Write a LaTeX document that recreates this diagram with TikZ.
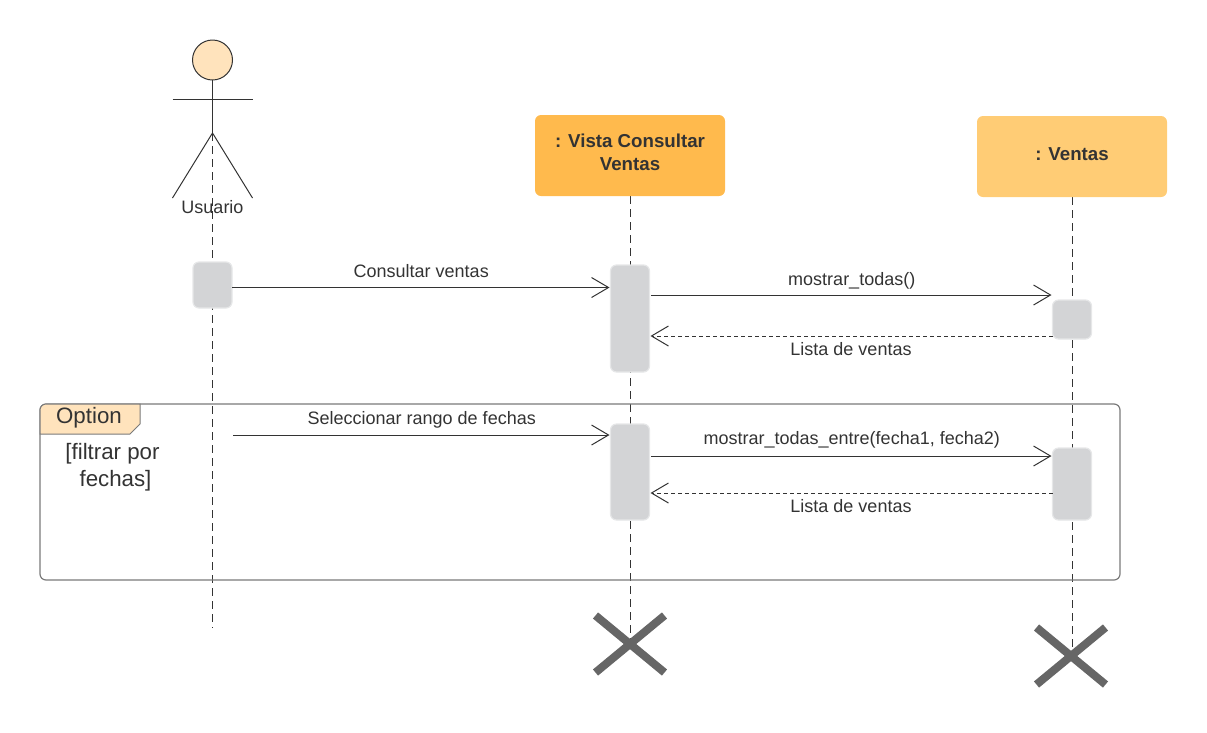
\documentclass[tikz,border=0pt]{standalone}
\usepackage{fontspec}
\setmainfont{Liberation Sans}
\usepackage{xcolor}
\usetikzlibrary{arrows.meta, positioning, shapes.misc, backgrounds}
\definecolor{inkgray}{HTML}{333333}
\definecolor{headorange}{HTML}{FFBA4D}
\definecolor{headyellow}{HTML}{FFCC75}
\definecolor{skinorange}{HTML}{FFE3BC}
\definecolor{barfill}{HTML}{D3D4D6}
\definecolor{barline}{HTML}{E6E7E8}
\definecolor{crossgray}{HTML}{666666}
\definecolor{framegray}{HTML}{7A7A7A}

\begin{document}
\begin{tikzpicture}[
    x=1pt, y=-1pt,
    every node/.style={text=inkgray, font=\fontsize{18}{21}\selectfont},
    head/.style={rectangle, rounded corners=6pt, align=center, minimum width=190pt, minimum height=81pt, inner sep=0pt, outer sep=0pt, font=\fontsize{18.7}{23}\selectfont\bfseries},
    bar/.style={rectangle, rounded corners=6pt, draw=barline, fill=barfill, line width=1.2pt, minimum width=39pt, inner sep=0pt, outer sep=0pt},
    kill/.style={cross out, draw=crossgray, line width=8pt, minimum width=69pt, minimum height=57pt, inner sep=0pt, outer sep=0pt},
    lifeline/.style={dash pattern=on 8pt off 5pt, line width=1pt, draw=inkgray},
    limb/.style={line width=1pt, draw=inkgray},
    call/.style={-{Straight Barb[length=17pt, width=20pt, line width=1pt]}, line width=1pt, draw=inkgray, shorten >=1pt},
    reply/.style={-{Straight Barb[length=17pt, width=20pt, line width=1pt]}, line width=1pt, draw=inkgray, dash pattern=on 4pt off 3pt, shorten >=1pt},
    msg/.style={text height=13pt, text depth=4pt, inner sep=0pt},
    frag/.style={rectangle, rounded corners=6pt, draw=framegray, line width=1.2pt, minimum width=1080pt, minimum height=176pt, inner sep=0pt, outer sep=0pt}
]
\useasboundingbox (0,0) rectangle (1207,732);

% actor
\node[circle, draw=inkgray, fill=skinorange, line width=1pt, minimum size=40pt, inner sep=0pt, outer sep=0pt] (userhead) at (212.5,60) {};
\coordinate (hip) at (212.5,133);
\coordinate (armleft) at (172.5,99);
\coordinate (armright) at (252.5,99);
\coordinate (footleft) at (172.5,198);
\coordinate (footright) at (252.5,198);
\draw[limb] (userhead.south) -- (hip);
\draw[limb] (armleft) -- (armright);
\draw[limb] (footleft) -- (hip) -- (footright);
\node (userlabel) at (212.5,207) {Usuario};

% objects
\node[head, fill=headorange] (view) at (630,155.5) {: Vista Consultar\\Ventas\rule[-6pt]{0pt}{6pt}};
\node[head, fill=headyellow, right=252pt of view, yshift=-1pt] (sales) {: Ventas\rule[-4pt]{0pt}{4pt}};

% activations
\node[bar, minimum height=46pt] (useract) at (212.5,285) {};
\node[bar, minimum height=107pt, below=69pt of view] (viewone) {};
\node[bar, minimum height=96pt, below=52pt of viewone] (viewtwo) {};
\node[bar, minimum height=39pt, below=103pt of sales] (salesone) {};
\node[bar, minimum height=72pt, below=109pt of salesone] (salestwo) {};

% destroy marks
\node[kill, below=95.5pt of viewtwo] (viewend) {};
\node[kill, below=107.5pt of salestwo, xshift=-1pt] (salesend) {};
\coordinate (userend) at (212.5,628);

% lifelines
\begin{scope}[on background layer]
\draw[lifeline] (hip) -- (userend);
\draw[lifeline] (view.south) -- (viewend.center);
\draw[lifeline] (sales.south) -- (sales.south |- salesend.center);
\end{scope}

% option fragment
\node[frag] (option) at (580,492) {};
\coordinate (tabcorner) at (option.north west);
\draw[draw=framegray, line width=1pt, fill=skinorange]
    ([yshift=-30pt]tabcorner) [rounded corners=6pt] -- (tabcorner) [sharp corners] -- ([xshift=100pt]tabcorner) -- ([xshift=100pt, yshift=-20pt]tabcorner) -- ([xshift=90pt, yshift=-30pt]tabcorner) -- cycle;
\node[font=\fontsize{22.3}{26}\selectfont] (optionlabel) at (89,418) {Option};
\node[align=center, font=\fontsize{22.3}{27}\selectfont] (guard) at (112.5,467) {[filtrar por\\\hspace{6pt}fechas]};

% messages
\coordinate (selstart) at (233,435);
\draw[call] ([yshift=-2.5pt]useract.east) -- ([yshift=-2.5pt]useract.east -| viewone.west) node[midway, above=6pt, msg] (msgone) {Consultar ventas};
\draw[call] ([xshift=1.5pt, yshift=-30pt]viewone.north east) -- ([yshift=-30pt]viewone.north east -| salesone.west) node[midway, above=5pt, msg] (msgtwo) {mostrar\_todas()};
\draw[reply] ([yshift=-36pt]salesone.north west) -- ([yshift=-36pt]salesone.north west -| viewone.east) node[midway, below=3pt] (msgthree) {Lista de ventas};
\draw[call] (selstart) -- (selstart -| viewtwo.west) node[midway, above=6pt, msg] (msgfour) {Seleccionar rango de fechas};
\draw[call] ([xshift=1.5pt, yshift=-32pt]viewtwo.north east) -- ([yshift=-32pt]viewtwo.north east -| salestwo.west) node[midway, above=7pt, msg] (msgfive) {mostrar\_todas\_entre(fecha1, fecha2)};
\draw[reply] ([yshift=-45pt]salestwo.north west) -- ([yshift=-45pt]salestwo.north west -| viewtwo.east) node[midway, below=3pt] (msgsix) {Lista de ventas};
\end{tikzpicture}
\end{document}
